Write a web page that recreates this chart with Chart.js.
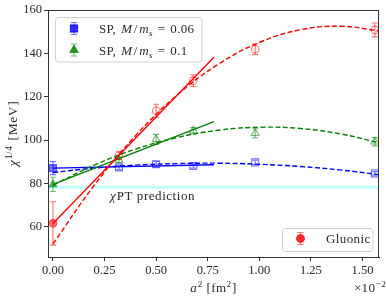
<!DOCTYPE html>
<html><head><meta charset="utf-8">
<script src="https://cdn.jsdelivr.net/npm/chart.js@4"></script>
<style>html,body{margin:0;padding:0;background:#fff}#w{width:386px;height:299px}</style>
</head><body><div id="w"><canvas id="c" width="386" height="299"></canvas></div>
<script>
// ---- data (a^2 in units of 1e-2 fm^2) ----
const a2 = [0, 0.32, 0.50, 0.68, 0.98, 1.56];
const gluonic = [61.5, 92.8, 113.5, 127.4, 141.9, 150.8];
const gluonicErr = [10, 1.8, 3.0, 2.7, 2.5, 3.2];
const sp006 = [87.0, 87.4, 88.8, 88.0, 89.7, 84.6];
const sp006Err = [3.0, 1.0, 1.3, 1.0, 1.0, 0.8];
const sp01 = [79.5, 90.8, 100.3, 104.3, 103.1, 99.2];
const sp01Err = [3.3, 1.3, 2.3, 1.5, 2.1, 1.9];
// linear fits (end points)
const linX = [0, 0.78];
const gluonicLin = [61.5, 138.2];
const sp006Lin = [87.0, 88.6];
const sp01Lin = [79.5, 108.5];
// quadratic fits
const quadX = [0, 0.2, 0.4, 0.6, 0.8, 1.0, 1.2, 1.4, 1.58];
const gluonicQuad = [52.0, 79.1, 102.0, 120.6, 134.9, 145.0, 150.9, 152.5, 150.3];
const sp006Quad = [85.0, 87.0, 88.4, 89.1, 89.3, 88.8, 87.75, 86.1, 84.0];
const sp01Quad = [79.1, 88.4, 95.8, 101.1, 104.5, 105.9, 105.3, 102.7, 98.7];
// chiPT prediction band
const chiPT = [77.5, 78.8];
// ticks
const xTicks = [0, 0.25, 0.5, 0.75, 1.0, 1.25, 1.5];
const yTicks = [60, 80, 100, 120, 140, 160];

const FONT = '"Liberation Serif", "Times New Roman", serif';
const TXT = '#2a2a2a';
const RED = '#ff0000', BLUE = '#0000ff', GREEN = '#008000';
const REDA = 'rgba(255,0,0,0.55)', BLUEA = 'rgba(0,0,255,0.55)', GREENA = 'rgba(0,128,0,0.55)';

function pts(xs, ys) { return xs.map((x, i) => ({x: x, y: ys[i]})); }
function fitLine(xs, ys, color, dashed, smooth) {
  return {data: pts(xs, ys), showLine: true, borderColor: color, borderWidth: 1.4,
    borderDash: dashed ? [5, 2.5] : [], pointRadius: 0, tension: smooth ? 0.4 : 0, fill: false};
}
function markers(ys, err, fillA, style, radius) {
  return {data: pts(a2, ys), showLine: false, errors: err, errColor: fillA,
    pointStyle: style, pointRadius: radius, borderColor: fillA, borderWidth: 1.1,
    pointBackgroundColor: a2.map((x, i) => i === 0 ? fillA : 'rgba(0,0,0,0)')};
}

// rich text: list of {t, it, sup, sub, sp}
function setF(ctx, r, size, ls) {
  const s = (r.sup || r.sub) ? size * 0.7 : size;
  ctx.font = (r.it ? 'italic ' : '') + s + 'px ' + FONT;
  ctx.letterSpacing = ls + 'px';
}
function richWidth(ctx, list, size, ls) {
  let w = 0;
  list.forEach(r => { setF(ctx, r, size, ls); w += ctx.measureText(r.t).width + (r.sp || 0); });
  return w;
}
function rich(ctx, list, x, cy, size, align, ls) {
  ls = ls || 0;
  const w = richWidth(ctx, list, size, ls);
  let cx = align === 'center' ? x - w / 2 : align === 'right' ? x - w : x;
  const base = cy + size * 0.33;
  ctx.textBaseline = 'alphabetic';
  ctx.textAlign = 'left';
  list.forEach(r => {
    setF(ctx, r, size, ls);
    const dy = r.sup ? -size * 0.42 : r.sub ? size * 0.22 : 0;
    ctx.fillText(r.t, cx, base + dy);
    cx += ctx.measureText(r.t).width + (r.sp || 0);
  });
  ctx.letterSpacing = '0px';
}

function drawMarker(ctx, style, x, y, r, fill, stroke) {
  ctx.save();
  ctx.fillStyle = fill; ctx.strokeStyle = stroke; ctx.lineWidth = 1.1;
  Chart.helpers.drawPoint(ctx, {pointStyle: style, radius: r, borderWidth: 1.1}, x, y);
  ctx.fill(); ctx.stroke();
  ctx.restore();
}
function errGlyph(ctx, x, y, h, color) {
  ctx.save(); ctx.strokeStyle = color; ctx.lineWidth = 1.1;
  ctx.beginPath();
  ctx.moveTo(x, y - h); ctx.lineTo(x, y + h);
  ctx.moveTo(x - 3, y - h); ctx.lineTo(x + 3, y - h);
  ctx.moveTo(x - 3, y + h); ctx.lineTo(x + 3, y + h);
  ctx.stroke(); ctx.restore();
}

const deco = {
  id: 'deco',
  beforeDatasetsDraw(chart) {
    const {ctx, chartArea: ca, scales: {y}} = chart;
    ctx.save();
    ctx.fillStyle = 'rgba(0,255,255,0.25)';
    const y1 = y.getPixelForValue(chiPT[1]), y0 = y.getPixelForValue(chiPT[0]);
    ctx.fillRect(ca.left, y1, ca.right - ca.left, y0 - y1);
    ctx.restore();
  },
  afterDatasetsDraw(chart) {
    const {ctx, scales: {x, y}} = chart;
    chart.data.datasets.forEach(d => {
      if (!d.errors) return;
      ctx.save(); ctx.strokeStyle = d.errColor; ctx.lineWidth = 1.1;
      d.data.forEach((p, i) => {
        const px = x.getPixelForValue(p.x);
        const t = y.getPixelForValue(p.y + d.errors[i]);
        const b = y.getPixelForValue(p.y - d.errors[i]);
        ctx.beginPath();
        ctx.moveTo(px, t); ctx.lineTo(px, b);
        ctx.moveTo(px - 3, t); ctx.lineTo(px + 3, t);
        ctx.moveTo(px - 3, b); ctx.lineTo(px + 3, b);
        ctx.stroke();
      });
      ctx.restore();
    });
  },
  afterDraw(chart) {
    const {ctx, chartArea: ca} = chart;
    ctx.save();
    ctx.strokeStyle = '#333'; ctx.lineWidth = 1;
    ctx.strokeRect(ca.left + 0.5, ca.top + 0.5, ca.right - ca.left - 1, ca.bottom - ca.top);
    ctx.fillStyle = TXT;
    // axis titles
    rich(ctx, [{t: 'a', it: true, sp: 0.5}, {t: '2', sup: true, sp: 4}, {t: '[fm'}, {t: '2', sup: true, sp: 0.5}, {t: ']'}],
      (ca.left + ca.right) / 2, 288, 13, 'center', 0.4);
    rich(ctx, [{t: '×10', sp: 0.5}, {t: '−2', sup: true}], 386, 288, 13, 'right', 0.3);
    ctx.save();
    ctx.translate(13, (ca.top + ca.bottom) / 2);
    ctx.rotate(-Math.PI / 2);
    rich(ctx, [{t: 'χ', it: true, sp: 0.5}, {t: '1/4', sup: true, sp: 5}, {t: '[MeV]'}], 0, 0, 13.5, 'center', 0.6);
    ctx.restore();
    // chiPT label
    rich(ctx, [{t: 'χ', it: true, sp: 0.5}, {t: 'PT prediction'}], 110, 196, 13, 'left', 0.55);
    // legend boxes
    ctx.save();
    ctx.fillStyle = 'rgba(255,255,255,0.8)'; ctx.strokeStyle = '#d0d0d0'; ctx.lineWidth = 1;
    ctx.beginPath(); ctx.roundRect(55.5, 17.5, 146.5, 44.5, 3); ctx.fill(); ctx.stroke();
    ctx.beginPath(); ctx.roundRect(282.5, 228.5, 90.5, 23, 3); ctx.fill(); ctx.stroke();
    ctx.restore();
    errGlyph(ctx, 74, 28.5, 6, BLUEA); drawMarker(ctx, 'rect', 74, 28.5, 5, BLUEA, BLUEA);
    errGlyph(ctx, 74, 50, 6, GREENA); drawMarker(ctx, 'triangle', 74, 50, 4.5, GREENA, GREENA);
    errGlyph(ctx, 300.5, 238.5, 6, REDA); drawMarker(ctx, 'circle', 300.5, 238.5, 3.8, REDA, REDA);
    ctx.fillStyle = TXT;
    const leg = v => [{t: 'SP,', sp: 5}, {t: 'M', it: true, sp: 1.5}, {t: '/', sp: 1.5}, {t: 'm', it: true},
      {t: 's', it: true, sub: true, sp: 5}, {t: '=', sp: 5}, {t: v}];
    rich(ctx, leg('0.06'), 99, 29, 13, 'left', 0.3);
    rich(ctx, leg('0.1'), 99, 50.5, 13, 'left', 0.3);
    rich(ctx, [{t: 'Gluonic'}], 326, 239, 13, 'left', 0.4);
    ctx.restore();
  }
};

const tickFont = {family: FONT, size: 12.5};
new Chart(document.getElementById('c'), {
  type: 'scatter',
  data: {datasets: [
    fitLine(linX, gluonicLin, RED, false, false),
    fitLine(quadX, gluonicQuad, RED, true, true),
    fitLine(linX, sp01Lin, GREEN, false, false),
    fitLine(quadX, sp01Quad, GREEN, true, true),
    fitLine(linX, sp006Lin, BLUE, false, false),
    fitLine(quadX, sp006Quad, BLUE, true, true),
    markers(gluonic, gluonicErr, REDA, 'circle', 3.8),
    markers(sp01, sp01Err, GREENA, 'triangle', 4.5),
    markers(sp006, sp006Err, BLUEA, 'rect', 5)
  ]},
  options: {
    responsive: false, animation: false, devicePixelRatio: 1,
    layout: {padding: {top: 10, right: 7, left: 0, bottom: 0}},
    plugins: {legend: {display: false}, tooltip: {enabled: false}},
    scales: {
      x: {type: 'linear', min: -0.024, max: 1.58,
        afterBuildTicks: s => { s.ticks = xTicks.map(v => ({value: v})); },
        afterFit: s => { s.height = 42; },
        ticks: {callback: v => v.toFixed(2), font: tickFont, color: TXT, padding: 2, maxRotation: 0, autoSkip: false},
        grid: {drawOnChartArea: false, tickLength: 4, color: '#333'},
        border: {color: '#333'}},
      y: {type: 'linear', min: 46, max: 160,
        afterBuildTicks: s => { s.ticks = yTicks.map(v => ({value: v})); },
        afterFit: s => { s.width = 48; },
        ticks: {callback: v => String(v), font: tickFont, color: TXT, padding: 2, autoSkip: false},
        grid: {drawOnChartArea: false, tickLength: 4, color: '#333'},
        border: {color: '#333'}}
    }
  },
  plugins: [deco]
});
</script></body></html>
